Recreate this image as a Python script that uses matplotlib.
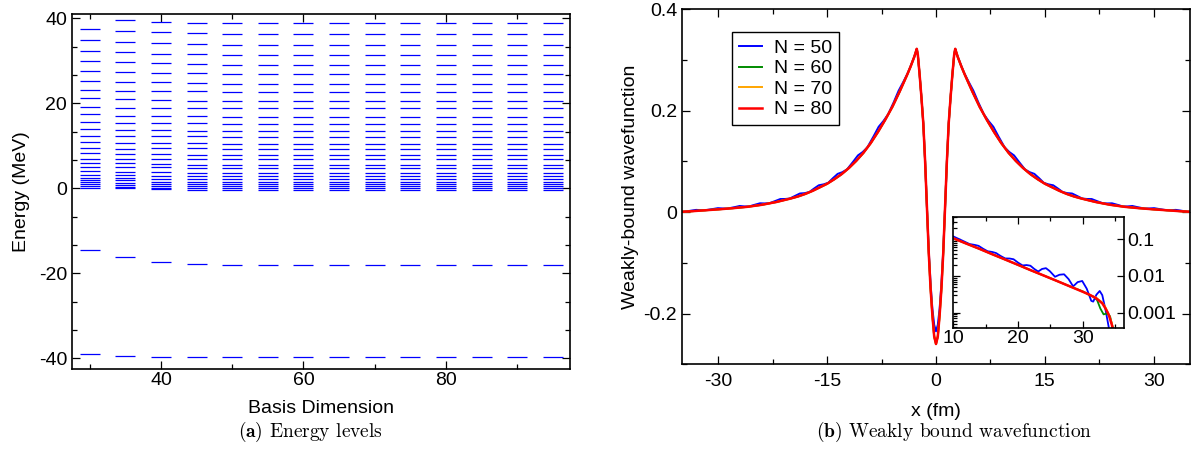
import matplotlib
matplotlib.use("Agg")
import matplotlib.pyplot as plt
from matplotlib.ticker import MultipleLocator, AutoMinorLocator, LogLocator, NullFormatter, FixedLocator

#===== GENERAL SETTINGS =====
plt.rcParams['font.family'] = ['Liberation Sans', 'DejaVu Sans']
plt.rcParams['axes.unicode_minus'] = False
plt.rcParams['mathtext.fontset'] = 'cm'
FS = 14

#===== DATA: (a) energy levels =====
basis = [30, 35, 40, 45, 50, 55, 60, 65, 70, 75, 80, 85, 90, 95]
bound_deep = [-39.0, -39.5, -39.7, -39.7, -39.7, -39.7, -39.7, -39.7, -39.7, -39.7, -39.7, -39.7, -39.7, -39.7]
bound_mid = [-14.6, -16.2, -17.3, -17.7, -18.0, -18.0, -18.0, -18.0, -18.0, -18.0, -18.0, -18.0, -18.0, -18.0]
cont_30 = [37.4, 34.9, 32.3, 29.9, 27.6, 25.3, 23.2, 21.2, 19.2, 17.4, 15.6, 14.0, 12.3, 10.9,
           9.6, 8.2, 7.0, 5.9, 4.9, 4.0, 3.2, 2.5, 1.9, 1.4, 0.9, 0.5, 0.15]
cont_35 = [39.6, 37.0, 34.3, 32.0, 29.6, 27.4, 25.1, 22.9, 20.9, 19.0, 17.1, 15.4, 13.7, 12.3,
           10.7, 9.3, 8.1, 6.9, 5.9, 4.9, 3.9, 3.1, 2.5, 1.9, 1.3, 0.8, 0.4, 0.1]
cont_40 = [39.2, 36.7, 34.1, 31.7, 29.4, 27.2, 24.9, 22.9, 20.8, 19.0, 17.0, 15.4, 13.7, 12.3,
           10.7, 9.6, 8.0, 7.0, 5.7, 4.9, 3.8, 3.0, 2.2, 1.6, 0.9, 0.5, 0.15, -0.2]
cont_45 = [39.0, 36.5, 33.9, 31.6, 29.2, 27.1, 24.7, 22.8, 20.6, 18.8, 16.9, 15.3, 13.5, 12.2,
           10.6, 9.4, 7.8, 6.8, 5.6, 4.7, 3.7, 2.9, 2.1, 1.5, 0.9, 0.5, 0.15, -0.4]
cont_50up = [38.8, 36.3, 33.7, 31.4, 28.9, 26.8, 24.5, 22.7, 20.5, 18.8, 16.7, 15.2, 13.4, 12.1,
             10.4, 9.3, 7.8, 6.8, 5.6, 4.7, 3.5, 2.8, 2.1, 1.5, 0.9, 0.5, 0.1, -0.5]
continuum = {30: cont_30, 35: cont_35, 40: cont_40, 45: cont_45}

#===== DATA: (b) wavefunction, x >= 0 half (the curves are symmetric) =====
# N = 80 (N = 60 and 70 lie under it)
half_x = [0, 0.25, 0.5, 0.75, 1.0, 1.25, 1.5, 1.75, 2.0, 2.25, 2.5, 2.65, 2.8, 3.0, 3.5, 4, 5, 6, 7, 8,
          9, 10, 11, 12, 13, 14, 15, 16, 17, 18, 19, 20, 22, 24, 26, 28, 30, 32, 34, 35]
half_n80 = [-0.26, -0.245, -0.203, -0.15, -0.08, 0.01, 0.10, 0.175, 0.225, 0.27, 0.31, 0.322, 0.315,
            0.306, 0.287, 0.270, 0.238, 0.208, 0.182, 0.158, 0.136, 0.117, 0.101, 0.087, 0.075,
            0.065, 0.056, 0.049, 0.042, 0.036, 0.031, 0.027, 0.020, 0.0145, 0.0105, 0.0078, 0.0055,
            0.0035, 0.0015, 0.0008]
# N = 50 (rippled tail)
half50_x = [0, 0.25, 0.5, 0.75, 1.0, 1.25, 1.5, 1.75, 2.0, 2.25, 2.5, 2.65, 2.8, 3.0, 3.85, 4.5, 5.15,
            5.85, 6.6, 7.25, 7.9, 8.6, 9.45, 10.1, 10.75, 11.45, 12.25, 12.9, 13.55, 14.25, 14.85,
            15.5, 16.15, 16.85, 17.45, 18.1, 18.75, 19.45, 20.15, 20.8, 21.45, 22.15, 22.95, 23.6,
            24.25, 24.95, 25.75, 26.4, 27.05, 27.75, 28.75, 29.4, 30.05, 30.75, 31.75, 32.4, 33.05,
            33.75, 34.5, 35]
half_n50 = [-0.235, -0.222, -0.19, -0.14, -0.075, 0.01, 0.10, 0.175, 0.225, 0.27, 0.31, 0.322, 0.315,
            0.306, 0.2755, 0.257, 0.2395, 0.216, 0.193, 0.1796, 0.1684, 0.1496, 0.128, 0.1186, 0.112,
            0.0989, 0.0845, 0.0789, 0.0755, 0.0664, 0.0579, 0.0548, 0.053, 0.0461, 0.0397, 0.0375,
            0.0368, 0.0319, 0.0269, 0.026, 0.0259, 0.022, 0.0177, 0.0172, 0.0175, 0.0147, 0.0113,
            0.0113, 0.0122, 0.0099, 0.0071, 0.0073, 0.0079, 0.0062, 0.0039, 0.004, 0.0045, 0.003,
            0.0012, 0.0005]

# inset (log scale tail)
ins_x = [10, 12, 14, 16, 18, 20, 22, 24, 26, 28, 30, 31, 32, 33, 33.5, 34, 34.5, 35]
ins_n80 = [0.106, 0.076, 0.055, 0.039, 0.028, 0.020, 0.0142, 0.0102, 0.0073, 0.0052, 0.0037,
           0.0031, 0.0025, 0.0018, 0.0013, 0.00088, 0.00045, 0.0002]
ins_n70 = [0.106, 0.076, 0.055, 0.039, 0.028, 0.020, 0.0142, 0.0102, 0.0073, 0.0052, 0.0037,
           0.0031, 0.0026, 0.0019, 0.0014, 0.0009, 0.0005, 0.0002]
ins60_x = [10, 14, 18, 22, 26, 28, 30, 30.5, 31.0, 31.7, 32.2, 32.7, 33.2, 33.7, 34.2, 34.6, 35]
ins_n60 = [0.106, 0.055, 0.028, 0.0142, 0.0073, 0.0052, 0.0038, 0.0034, 0.0030, 0.0027, 0.0022,
           0.0013, 0.0009, 0.00095, 0.0008, 0.0004, 0.0002]
ins50_x = [10, 11.2, 12.5, 13.3, 13.9, 14.6, 15.3, 16.0, 16.6, 17.3, 18.0, 18.7, 19.3, 20.0, 20.7,
           21.3, 21.9, 22.5, 23.1, 23.7, 24.3, 24.9, 25.7, 26.4, 27.1, 27.8, 28.5, 29.2, 29.9, 30.6,
           31.3, 31.6, 32.1, 32.6, 33.0, 33.5, 34.0]
ins_n50 = [0.119, 0.095, 0.074, 0.070, 0.066, 0.055, 0.047, 0.045, 0.042, 0.035, 0.030, 0.0298,
           0.0285, 0.023, 0.0193, 0.0198, 0.019, 0.0155, 0.0132, 0.0155, 0.0163, 0.0135, 0.0095,
           0.0108, 0.0111, 0.0082, 0.0052, 0.0068, 0.0073, 0.0045, 0.0021, 0.0020, 0.0031, 0.0039,
           0.0030, 0.0012, 0.0004]

# mirror the symmetric halves onto x < 0
wf_x = [-v for v in half_x[::-1]] + half_x[1:]
wf_n80 = half_n80[::-1] + half_n80[1:]
wf_n70 = list(wf_n80)
wf_n60 = list(wf_n80)
wf50_x = [-v for v in half50_x[::-1]] + half50_x[1:]
wf_n50 = half_n50[::-1] + half_n50[1:]

#===== FIGURE =====
fig = plt.figure(figsize=(11.99, 4.53), dpi=100)
ax1 = fig.add_axes([0.0600, 0.1854, 0.4153, 0.7837])
ax2 = fig.add_axes([0.5688, 0.1958, 0.4237, 0.7837])
axi = fig.add_axes([0.7951, 0.2766, 0.1426, 0.2450])

def style(ax, size=FS):
    for s in ax.spines.values():
        s.set_linewidth(1.2)
    ax.tick_params(which='both', direction='in', top=True, right=True, labelsize=size, width=0.9)
    ax.tick_params(which='major', length=6)
    ax.tick_params(which='minor', length=3.5)

#----- (a) energy levels -----
half = 1.4  # half width of each level dash
for i, n in enumerate(basis):
    levels = continuum.get(n, cont_50up) + [bound_mid[i], bound_deep[i]]
    ax1.hlines(levels, n - half, n + half, colors='#0000ff', linewidth=0.9)
ax1.set_xlim(27.5, 97.4)
ax1.set_ylim(-42.5, 41.0)
ax1.xaxis.set_major_locator(FixedLocator([40, 60, 80]))
ax1.xaxis.set_minor_locator(FixedLocator([30, 50, 70, 90]))
ax1.yaxis.set_major_locator(MultipleLocator(20))
ax1.yaxis.set_minor_locator(AutoMinorLocator(3))
style(ax1)
ax1.tick_params(axis='x', which='major', pad=2)
ax1.set_xlabel("Basis Dimension", fontsize=FS, labelpad=8)
ax1.set_ylabel("Energy (MeV)", fontsize=FS, labelpad=6)

#----- (b) wavefunction -----
ax2.plot(wf50_x, wf_n50, color='#0000ff', lw=1.4, label='N = 50')
ax2.plot(wf_x, wf_n60, color='#008b00', lw=1.4, label='N = 60')
ax2.plot(wf_x, wf_n70, color='#ffa500', lw=1.4, label='N = 70')
ax2.plot(wf_x, wf_n80, color='#ff0000', lw=1.8, label='N = 80')
ax2.set_xlim(-35, 35)
ax2.set_ylim(-0.3, 0.4)
ax2.xaxis.set_major_locator(MultipleLocator(15))
ax2.xaxis.set_minor_locator(AutoMinorLocator(2))
ax2.yaxis.set_major_locator(MultipleLocator(0.2))
ax2.yaxis.set_minor_locator(AutoMinorLocator(2))
ax2.yaxis.set_major_formatter(plt.FuncFormatter(lambda v, p: "0" if abs(v) < 1e-9 else "%g" % v))
style(ax2)
ax2.tick_params(axis='x', which='major', pad=6.5)
ax2.set_xlabel("x (fm)", fontsize=FS, labelpad=9)
ax2.set_ylabel("Weakly-bound wavefunction", fontsize=FS, labelpad=3)
leg = ax2.legend(loc='upper left', bbox_to_anchor=(0.099, 0.935), fontsize=FS, handlelength=1.2,
                 handletextpad=0.6, labelspacing=0.15, borderpad=0.35, borderaxespad=0,
                 fancybox=False, framealpha=1, edgecolor='black')
leg.get_frame().set_linewidth(1.0)

#----- inset -----
axi.plot(ins50_x, ins_n50, color='#0000ff', lw=1.3)
axi.plot(ins60_x, ins_n60, color='#008b00', lw=1.3)
axi.plot(ins_x, ins_n70, color='#ffa500', lw=1.3)
axi.plot(ins_x, ins_n80, color='#ff0000', lw=1.8)
axi.set_yscale('log')
axi.set_xlim(10, 36.4)
axi.set_ylim(3.9e-4, 0.41)
axi.xaxis.set_major_locator(FixedLocator([10, 20, 30]))
axi.xaxis.set_minor_locator(FixedLocator([15, 25, 35]))
axi.yaxis.set_major_locator(FixedLocator([0.001, 0.01, 0.1]))
axi.yaxis.set_minor_locator(LogLocator(base=10, subs=[2, 3, 4, 5, 6, 7, 8, 9]))
axi.yaxis.set_minor_formatter(NullFormatter())
axi.set_yticklabels(["0.001", "0.01", "0.1"])
style(axi)
axi.tick_params(which='both', labelleft=False, labelright=True)
axi.tick_params(which='minor', right=False, length=3)
axi.tick_params(which='major', length=5, pad=2)

#----- captions -----
fig.text(0.2586, 0.046, r"$\mathbf{(a)}$ Energy levels", family='cmr10', fontsize=14, ha='center', va='center')
fig.text(0.7960, 0.046, r"$\mathbf{(b)}$ Weakly bound wavefunction", family='cmr10', fontsize=14, ha='center', va='center')

fig.savefig("out.png", dpi=100)
